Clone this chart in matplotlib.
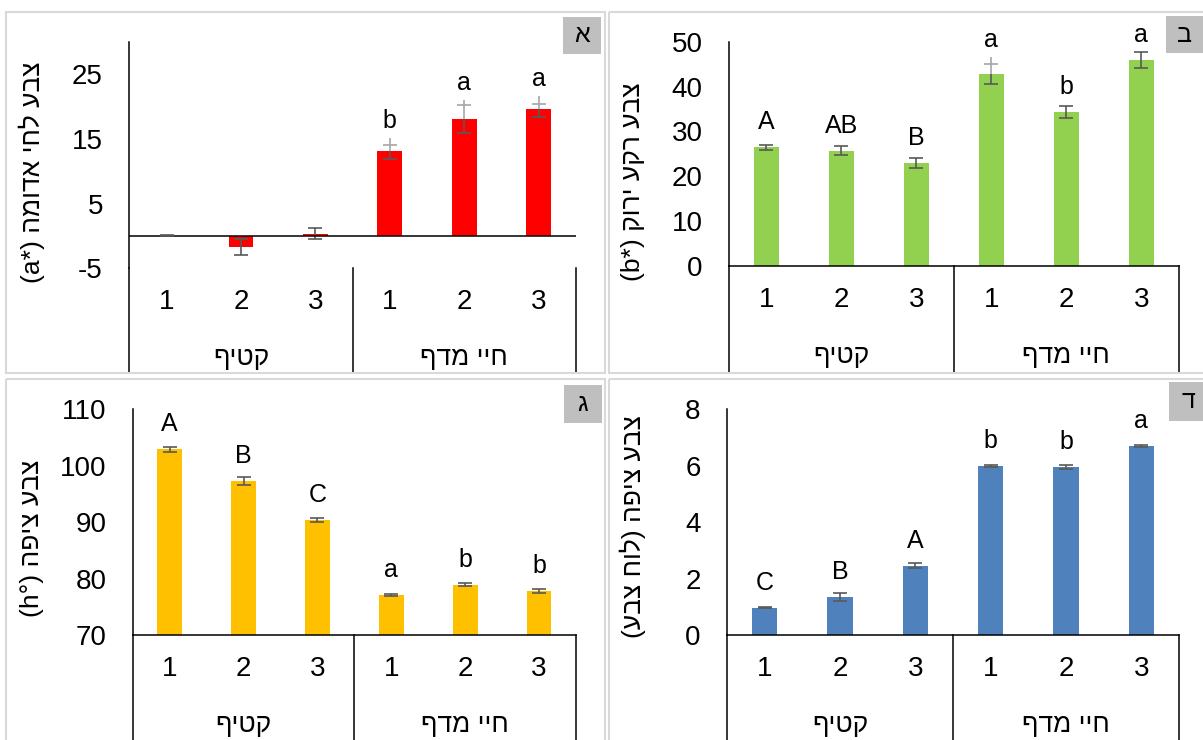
import matplotlib
matplotlib.use("Agg")
import matplotlib.pyplot as plt
import matplotlib.transforms as mtrans
from matplotlib.patches import Rectangle

W, H = 1203, 740

plt.rcParams['font.family'] = ['Liberation Sans', 'DejaVu Sans']
plt.rcParams['axes.unicode_minus'] = False


def heb(s):
    # no bidi in matplotlib: flip to visual order and mirror the brackets
    return s[::-1].translate(str.maketrans("()", ")("))


cats = ["1", "2", "3", "1", "2", "3"]
groups = [heb("קטיף"), heb("חיי מדף")]

# panel א  (a*)
a_vals = [0.05, -1.65, 0.37, 13.1, 18.1, 19.55]
a_err = [0.1, 1.25, 0.85, 1.16, 2.16, 1.15]
a_err_lt = [0, 0, 0, 0.9, 2.1, 0.85]
a_ext = [0, 0, 0, 2.0, 2.95, 2.05]
a_letters = ["", "", "", "b", "a", "a"]

# panel ב  (b*)
b_vals = [26.46, 25.7, 23.0, 42.8, 34.26, 45.85]
b_err = [0.6, 1.0, 1.1, 2.3, 1.3, 1.8]
b_err_lt = [0, 0, 0, 2.2, 0, 0]
b_ext = [0, 0, 0, 3.85, 0, 0]
b_letters = ["A", "AB", "B", "a", "b", "a"]

# panel ג  (h°)
c_vals = [102.9, 97.3, 90.3, 77.1, 78.9, 77.8]
c_err = [0.5, 0.75, 0.35, 0.25, 0.3, 0.3]
c_letters = ["A", "B", "C", "a", "b", "b"]

# panel ד  (color chart)
d_vals = [0.97, 1.34, 2.46, 5.99, 5.95, 6.71]
d_err = [0.03, 0.15, 0.08, 0.02, 0.06, 0.04]
d_letters = ["C", "B", "A", "b", "b", "a"]

DARK = "#595959"
LIGHT = "#a6a6a6"

fig = plt.figure(figsize=(W / 100, H / 100), dpi=100)
fig.patch.set_facecolor("white")
# pixel coords, y measured from the top
pxT = mtrans.Affine2D().scale(1.0 / W, -1.0 / H).translate(0, 1) + fig.transFigure


def frame(x0, y0, x1, y1, tag, box, tag_x):
    fig.add_artist(Rectangle((x0, y0), x1 - x0, y1 - y0, transform=pxT,
                             fill=False, ec="#d9d9d9", lw=1.5))
    bx0, by0, bx1, by1 = box
    fig.add_artist(Rectangle((bx0, by0), bx1 - bx0, by1 - by0, transform=pxT,
                             fc="#bfbfbf", ec="none"))
    fig.text(tag_x, (by0 + by1) / 2, tag, transform=pxT, ha="center",
             va="center", fontsize=18)


def caps(ax, x, y, color):
    ax.plot(x, y, ls="none", marker="_", ms=9.5, mew=1.2, color=color, zorder=4)


def panel(left, right, top, bottom, cat_bottom, vals, err, ylim, yticks,
          ylabel, ylab_xy, color, letters, err_lt=None, ext=None, zero_line=False):
    ax = fig.add_axes([left / W, 1 - bottom / H, (right - left) / W, (bottom - top) / H])
    x = list(range(len(vals)))
    ax.bar(x, vals, width=0.335, color=color, zorder=2)
    err_lt = err_lt or [0] * len(vals)
    ext = ext or [0] * len(vals)

    for i, v in enumerate(vals):
        hi = 0 if err_lt[i] else err[i]
        ax.vlines(i, v - err[i], v + hi, color=DARK, lw=1.2, zorder=3)
        caps(ax, [i], [v - err[i]], DARK)
        if hi:
            caps(ax, [i], [v + hi], DARK)
        if err_lt[i]:
            ax.vlines(i, v, v + ext[i], color=LIGHT, lw=1.2, zorder=3)
            caps(ax, [i], [v + err_lt[i]], LIGHT)
        if letters[i]:
            anchor = v + ext[i] if ext[i] else v
            off = 12.2 if ext[i] else 18
            ax.annotate(letters[i], (i, anchor), xytext=(0, off),
                        textcoords="offset points", ha="center", va="center",
                        fontsize=18)

    ax.set_xlim(-0.5, 5.5)
    ax.set_ylim(*ylim)
    ax.set_yticks(yticks)
    ax.set_xticks([])
    ax.tick_params(axis="y", length=0, pad=19, labelsize=20)
    for s in ("top", "right"):
        ax.spines[s].set_visible(False)
    ax.spines["left"].set_linewidth(1.1)
    if zero_line:
        ax.spines["bottom"].set_visible(False)
        ax.axhline(0, color="black", lw=1.1, zorder=3)
    else:
        ax.spines["bottom"].set_linewidth(1.1)
    ax.patch.set_alpha(0)

    # category area below the plot
    trX = mtrans.blended_transform_factory(ax.transData, pxT)
    for xs in (-0.5, 2.5, 5.5):
        ax.plot([xs, xs], [bottom, cat_bottom], color="black", lw=1.1,
                transform=trX, clip_on=False)
    num_y = bottom + 34
    grp_y = bottom + 90
    for i, c in enumerate(cats):
        ax.text(i, num_y, c, transform=trX, ha="center", va="center", fontsize=20)
    for g, xc in zip(groups, (1, 4)):
        ax.text(xc, grp_y, g, transform=trX, ha="center", va="center", fontsize=19)

    fig.text(ylab_xy[0], ylab_xy[1], ylabel, transform=pxT, rotation=90,
             ha="center", va="center", fontsize=19)
    return ax


frame(5.5, 12, 604.5, 373, "א", (563, 17, 601, 54), 582)
frame(609, 12, 1210, 373, "ב", (1166, 16, 1210, 53), 1185)
frame(5.5, 379, 604.5, 750, "ג", (564, 385, 601.5, 422.5), 583)
frame(609, 379, 1210, 750, "ד", (1169, 382, 1210, 421), 1188)

panel(129.3, 576, 41.7, 268.3, 373, a_vals, a_err, (-5, 30), [-5, 5, 15, 25],
      "(a*) " + heb("צבע לחי אדומה"), (32, 172), "#ff0000", a_letters,
      a_err_lt, a_ext, zero_line=True)
panel(728.8, 1178.8, 41.7, 266, 373, b_vals, b_err, (0, 50), range(0, 51, 10),
      "(b*) " + heb("צבע רקע ירוק"), (633, 182), "#92d050", b_letters,
      b_err_lt, b_ext)
panel(132.8, 576, 409.3, 635, 740, c_vals, c_err, (70, 110), range(70, 111, 10),
      "(h°) " + heb("צבע ציפה"), (32, 538), "#ffc000", c_letters)
panel(727, 1179, 409.3, 635, 740, d_vals, d_err, (0, 8), range(0, 9, 2),
      heb("צבע ציפה (לוח צבע)"), (633, 527), "#4f81bd", d_letters)

fig.savefig("out.png", dpi=100)
